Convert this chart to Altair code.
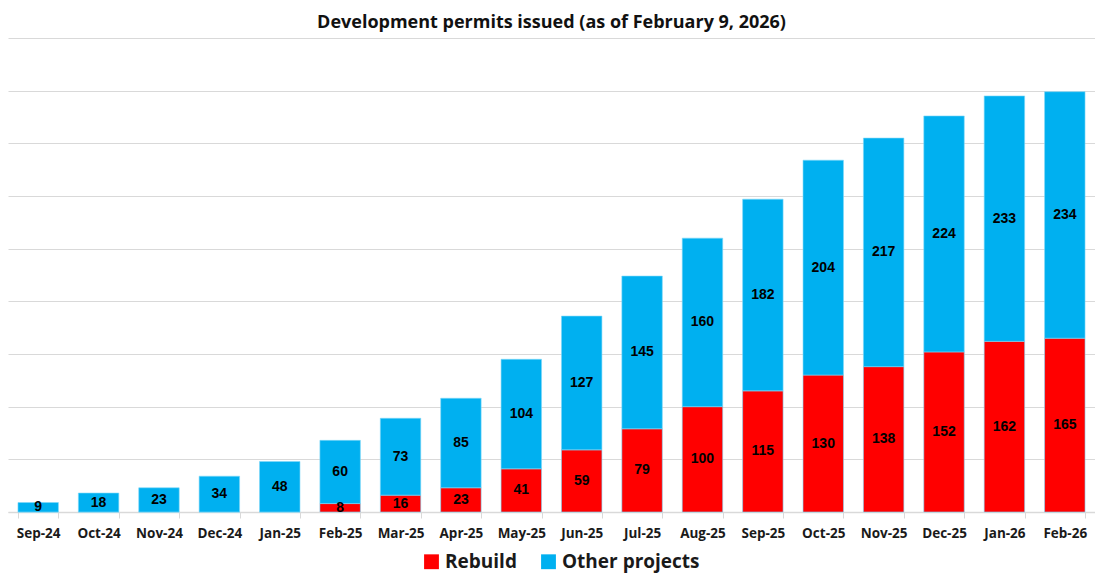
import altair as alt
import pandas as pd

months = ["Sep-24", "Oct-24", "Nov-24", "Dec-24", "Jan-25", "Feb-25", "Mar-25", "Apr-25",
          "May-25", "Jun-25", "Jul-25", "Aug-25", "Sep-25", "Oct-25", "Nov-25", "Dec-25",
          "Jan-26", "Feb-26"]
rebuild = [0, 0, 0, 0, 0, 8, 16, 23, 41, 59, 79, 100, 115, 130, 138, 152, 162, 165]
other = [9, 18, 23, 34, 48, 60, 73, 85, 104, 127, 145, 160, 182, 204, 217, 224, 233, 234]
series = ["Rebuild", "Other projects"]
colors = ["#FF0000", "#00B0F0"]

rows = []
for i, m in enumerate(months):
    rows.append({"month": m, "series": series[0], "order": 0, "value": rebuild[i]})
    rows.append({"month": m, "series": series[1], "order": 1, "value": other[i]})
df = pd.DataFrame(rows)

FONT = "Open Sans"

base = alt.Chart(df).transform_stack(
    stack="value", groupby=["month"], sort=[alt.SortField("order")], as_=["v0", "v1"]
).transform_calculate(mid="(datum.v0 + datum.v1) / 2")

x = alt.X("month:N", sort=months, title=None,
          scale=alt.Scale(paddingInner=0.33, paddingOuter=0.165),
          axis=alt.Axis(labelAngle=0, labelFont=FONT, labelFontSize=13.5, labelFontWeight="bold",
                        labelColor="#1a1a1a", labelPadding=8, tickBand="extent", ticks=True,
                        tickColor="#d9d9d9", tickSize=6, domainColor="#d9d9d9", domainWidth=1.5))

bars = base.mark_bar(stroke="#7fd8f8", strokeWidth=0.6).encode(
    x=x,
    y=alt.Y("v0:Q", title=None, scale=alt.Scale(domain=[0, 450]),
            axis=alt.Axis(values=list(range(0, 451, 50)), labels=False, ticks=False, domain=False,
                          grid=True, gridColor="#d9d9d9", gridWidth=1.2)),
    y2="v1:Q",
    color=alt.Color("series:N", scale=alt.Scale(domain=series, range=colors),
                    sort=series,
                    legend=alt.Legend(orient="none", legendX=414, legendY=514,
                                      direction="horizontal", title=None,
                                      symbolType="square", symbolSize=220, symbolStrokeWidth=0,
                                      labelFont=FONT, labelFontSize=19, labelFontWeight="bold",
                                      labelColor="#1a1a1a", columnPadding=22)),
)

labels = base.transform_filter("datum.value > 0").mark_text(
    font="Liberation Sans", fontSize=14, fontWeight="bold", color="black", baseline="middle"
).encode(
    x=alt.X("month:N", sort=months),
    y=alt.Y("mid:Q"),
    text=alt.Text("value:Q"),
)

chart = alt.layer(bars, labels).properties(
    width=1087, height=474,
    title=alt.TitleParams("Development permits issued (as of February 9, 2026)",
                          font=FONT, fontSize=18, fontWeight="bold", color="#111111",
                          anchor="middle", offset=6),
    padding={"left": 0, "right": 0, "top": 6, "bottom": 8},
).configure_view(stroke=None)

chart.save("out.html", embed_options={"renderer": "svg", "actions": False})
